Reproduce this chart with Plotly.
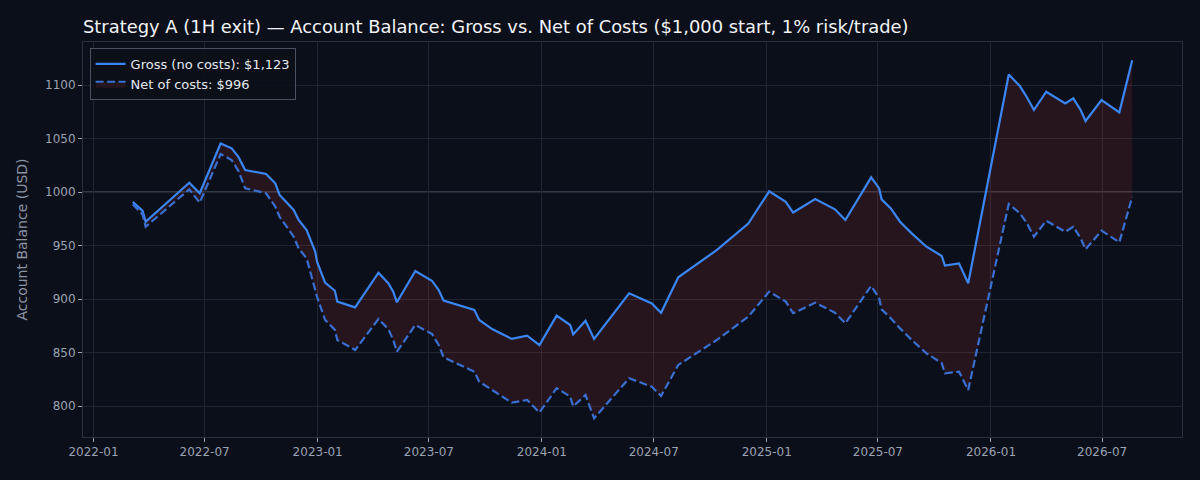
import plotly.graph_objects as go

# Equity curve points
dates = [
    '2022-03-06', '2022-03-22', '2022-03-27', '2022-06-06', '2022-06-23',
    '2022-07-27', '2022-08-14', '2022-08-25', '2022-09-05', '2022-10-09',
    '2022-10-24', '2022-10-31', '2022-11-23', '2022-12-01', '2022-12-14',
    '2022-12-28', '2022-12-31', '2023-01-13', '2023-01-29', '2023-02-02',
    '2023-03-03', '2023-04-10', '2023-04-26', '2023-05-04', '2023-05-10',
    '2023-06-09', '2023-07-06', '2023-07-17', '2023-07-25', '2023-09-13',
    '2023-09-21', '2023-10-12', '2023-11-13', '2023-12-08', '2023-12-28',
    '2024-01-25', '2024-02-16', '2024-02-21', '2024-03-12', '2024-03-26',
    '2024-05-22', '2024-06-28', '2024-07-13', '2024-08-10', '2024-10-12',
    '2024-12-02', '2025-01-05', '2025-02-01', '2025-02-13', '2025-03-21',
    '2025-04-22', '2025-05-09', '2025-06-20', '2025-07-03', '2025-07-07',
    '2025-07-22', '2025-08-06', '2025-08-25', '2025-09-18', '2025-10-13',
    '2025-10-18', '2025-11-10', '2025-11-25', '2026-01-30', '2026-02-17',
    '2026-02-28', '2026-03-12', '2026-04-01', '2026-05-02', '2026-05-15',
    '2026-05-27', '2026-06-04', '2026-06-30', '2026-07-29', '2026-08-19',
]

gross = [
    990.9, 982.5, 972.4, 1008.9, 999.0,
    1045.6, 1041.0, 1033.0, 1020.8, 1017.0,
    1008.3, 997.4, 983.4, 974.0, 964.6,
    944.4, 935.0, 915.5, 907.8, 897.6,
    892.3, 924.7, 914.8, 907.0, 897.0,
    926.3, 917.2, 908.5, 898.6, 889.9,
    880.5, 872.0, 862.8, 865.8, 857.0,
    884.5, 875.8, 867.0, 879.8, 862.7,
    905.4, 896.0, 887.2, 920.4, 946.0,
    970.7, 1000.8, 991.0, 981.0, 993.6,
    984.0, 974.0, 1013.9, 1003.6, 993.3,
    984.9, 972.4, 961.5, 949.0, 940.3,
    931.3, 933.4, 914.8, 1110.1, 1099.3,
    1089.3, 1076.9, 1094.0, 1083.0, 1087.8,
    1076.9, 1066.6, 1086.2, 1074.7, 1123.4,
]

net = [
    988.8, 979.0, 967.7, 1002.7, 990.2,
    1035.7, 1030.0, 1020.0, 1003.6, 999.0,
    986.5, 977.0, 958.4, 947.4, 938.2,
    910.0, 902.2, 880.6, 871.2, 861.8,
    852.4, 881.4, 872.0, 861.8, 850.8,
    875.8, 867.4, 857.1, 845.6, 832.1,
    822.8, 815.0, 803.1, 805.6, 793.9,
    816.7, 808.9, 799.6, 810.3, 788.5,
    826.0, 818.0, 809.4, 838.4, 861.8,
    883.6, 907.0, 897.6, 886.8, 896.7,
    887.3, 877.4, 912.3, 900.8, 890.4,
    882.0, 872.6, 861.8, 849.3, 840.0,
    830.6, 832.1, 815.0, 989.0, 980.3,
    971.5, 958.4, 973.3, 963.0, 967.7,
    956.9, 946.6, 964.0, 953.1, 995.8,
]

START_BALANCE = 1000
BG = '#0b0f19'
BLUE = '#3b86f7'
NET_BLUE = '#3a6fd2'

fig = go.Figure()

fig.add_trace(go.Scatter(
    x=dates, y=gross, mode='lines',
    name=f'Gross (no costs): ${gross[-1]:,.0f}',
    line=dict(color=BLUE, width=2.2),
))

fig.add_trace(go.Scatter(
    x=dates, y=net, mode='lines',
    name=f'Net of costs: ${net[-1]:,.0f}',
    line=dict(color=NET_BLUE, width=2.2, dash='8px,3.5px'),
    fill='tonexty', fillcolor='rgba(239,68,68,0.12)',
))

# starting balance reference
fig.add_hline(y=START_BALANCE, line=dict(color='#5b6475', width=1.2), layer='below')

fig.update_layout(
    width=1200, height=480,
    paper_bgcolor=BG, plot_bgcolor=BG,
    font=dict(family='DejaVu Sans', color='#9aa3b2', size=12),
    margin=dict(l=83, r=18, t=42, b=43),
    title=dict(
        text='Strategy A (1H exit) — Account Balance: Gross vs. Net of Costs ($1,000 start, 1% risk/trade)',
        x=83 / 1200, xanchor='left', y=0.945, yanchor='middle',
        font=dict(size=17.9, color='#f2f4f8'),
    ),
    legend=dict(
        x=0.006, y=0.985, xanchor='left', yanchor='top',
        traceorder='normal',
        bgcolor='rgba(11,15,25,0.85)', bordercolor='#4a5262', borderwidth=1,
        font=dict(size=13, color='#e6e9ef'),
    ),
    showlegend=True,
)

fig.update_xaxes(
    range=['2021-12-15', '2026-11-08'],
    dtick='M6', tick0='2022-01-01', tickformat='%Y-%m',
    showgrid=True, gridcolor='#1f2533', gridwidth=1,
    ticks='outside', ticklen=4, tickcolor='#9aa3b2',
    showline=True, linecolor='#2a3040', mirror=True,
    zeroline=False,
)
fig.update_yaxes(
    range=[771, 1140.5], dtick=50,
    title=dict(text='Account Balance (USD)', font=dict(size=14, color='#8b93a3'), standoff=14),
    showgrid=True, gridcolor='#1f2533', gridwidth=1,
    ticks='outside', ticklen=4, tickcolor='#9aa3b2',
    showline=True, linecolor='#2a3040', mirror=True,
    zeroline=False,
)

fig.write_html('out.html', config={'displayModeBar': False},
               post_script="document.body.style.margin='0';")
